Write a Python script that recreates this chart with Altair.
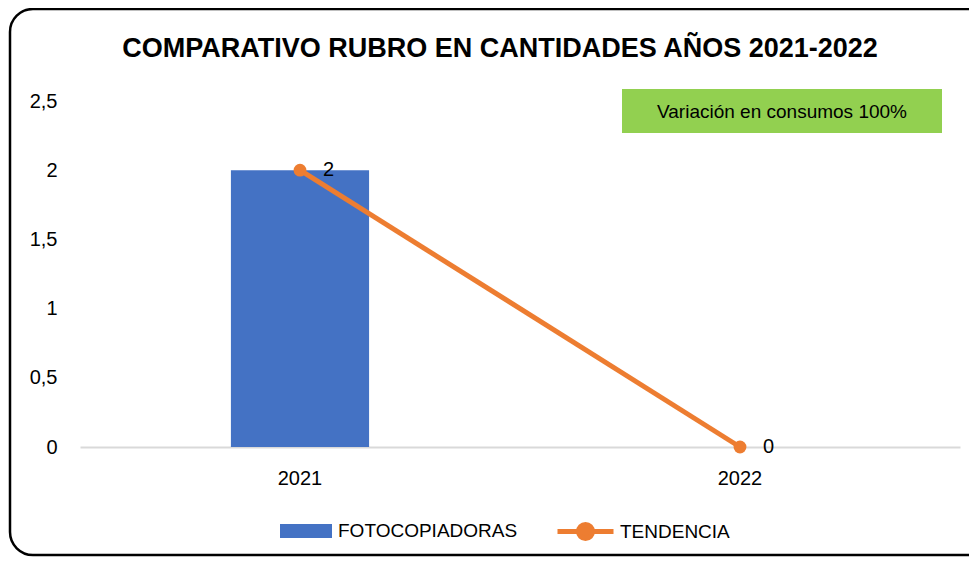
import altair as alt
import pandas as pd

# ---- data ----
anios = ["2021", "2022"]
fotocopiadoras = [2, 0]
tendencia = [2, 0]
y_ticks = [0, 0.5, 1, 1.5, 2, 2.5]

titulo = "COMPARATIVO RUBRO EN CANTIDADES AÑOS 2021-2022"
nota = "Variación en consumos 100%"

FONT = "Liberation Sans"
BLUE = "#4472C4"
ORANGE = "#ED7D31"
GREEN = "#92D050"

df = pd.DataFrame({"anio": anios, "FOTOCOPIADORAS": fotocopiadoras, "TENDENCIA": tendencia})
deco = pd.DataFrame({"titulo": [titulo], "nota": [nota]})

x_scale = alt.Scale(domain=anios, paddingInner=0.686, paddingOuter=0.343)
y_scale = alt.Scale(domain=[0, 2.5], nice=False)

x_enc = alt.X(
    "anio:N", scale=x_scale, sort=anios, title=None,
    axis=alt.Axis(labelAngle=0, labelFontSize=20, labelColor="#000000", labelFont=FONT,
                  ticks=False, domainColor="#D9D9D9", domainWidth=2, labelPadding=21,
                  grid=False),
)

base = alt.Chart(df)

bars = base.transform_calculate(serie="'FOTOCOPIADORAS'").mark_bar().encode(
    x=x_enc,
    y=alt.Y("FOTOCOPIADORAS:Q", scale=y_scale, title=None,
            axis=alt.Axis(values=y_ticks, labelExpr="replace(toString(datum.value), '.', ',')",
                          labelFontSize=20, labelColor="#000000", labelFont=FONT,
                          ticks=False, domain=False, grid=False, labelPadding=23)),
    fill=alt.Fill("serie:N", scale=alt.Scale(domain=["FOTOCOPIADORAS"], range=[BLUE]),
                  legend=alt.Legend(orient="none", legendX=200, legendY=404, title=None,
                                    symbolType="M-1,-0.27H1V0.27H-1Z", symbolSize=2704,
                                    symbolStrokeWidth=0, labelOffset=6, labelLimit=0,
                                    labelFontSize=19, labelFont=FONT, labelColor="#000000")),
)

line = base.transform_calculate(serie="'TENDENCIA'").mark_line(strokeWidth=5).encode(
    x=alt.X("anio:N", scale=x_scale, sort=anios),
    y=alt.Y("TENDENCIA:Q", scale=y_scale),
    stroke=alt.Stroke("serie:N", scale=alt.Scale(domain=["TENDENCIA"], range=[ORANGE]),
                      legend=alt.Legend(orient="none", legendX=475, legendY=400, title=None,
                                        symbolType="M-1,0H1M0.25,0A0.25,0.25,0,1,1,-0.25,0A0.25,0.25,0,1,1,0.25,0Z",
                                        symbolSize=3136, symbolStrokeWidth=5,
                                        symbolFillColor=ORANGE, labelOffset=4, labelLimit=0,
                                        labelFontSize=19, labelFont=FONT, labelColor="#000000")),
)

points = base.mark_circle(size=165, opacity=1, color=ORANGE).encode(
    x=alt.X("anio:N", scale=x_scale, sort=anios),
    y=alt.Y("TENDENCIA:Q", scale=y_scale),
)

labels = base.mark_text(align="left", baseline="middle", dx=23, fontSize=20,
                        font=FONT, color="#000000").encode(
    x=alt.X("anio:N", scale=x_scale, sort=anios),
    y=alt.Y("TENDENCIA:Q", scale=y_scale),
    text=alt.Text("TENDENCIA:Q"),
)

d = alt.Chart(deco)
border = d.mark_rect(fill="transparent", stroke="#000000", strokeWidth=2.5, cornerRadius=23).encode(
    x=alt.value(-70), x2=alt.value(920), y=alt.value(-92), y2=alt.value(454)
)
box = d.mark_rect(color=GREEN).encode(
    x=alt.value(542), x2=alt.value(862), y=alt.value(-12), y2=alt.value(32)
)
box_text = d.mark_text(fontSize=19, font=FONT, color="#000000", baseline="middle", align="center").encode(
    x=alt.value(702), y=alt.value(11), text="nota:N"
)
title_text = d.mark_text(fontSize=27, font=FONT, fontWeight="bold", color="#000000",
                         baseline="alphabetic", align="center").encode(
    x=alt.value(420), y=alt.value(-44), text="titulo:N"
)

chart = alt.layer(border, bars, line, points, labels, box, box_text, title_text).resolve_scale(
    fill="independent", stroke="independent"
).properties(
    width=880, height=346,
    autosize=alt.AutoSizeParams(type="none"),
    padding={"left": 72, "top": 93, "right": 9, "bottom": 110},
    background="#FFFFFF",
).configure_view(stroke=None)

chart.save("out.html", embed_options={"renderer": "svg", "actions": False})
